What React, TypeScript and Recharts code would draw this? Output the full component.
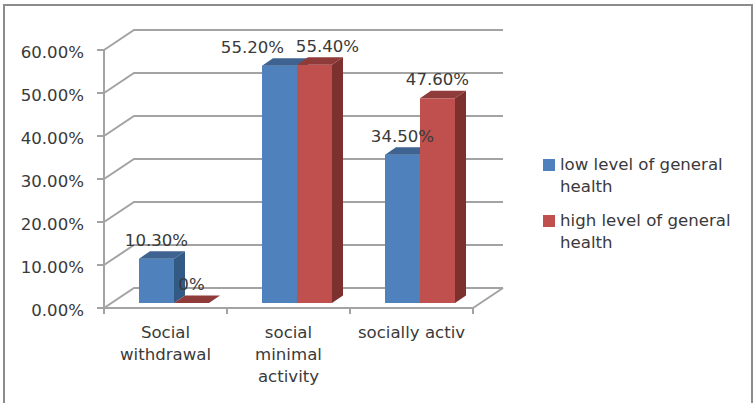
import { BarChart, Bar, XAxis, YAxis, CartesianGrid, Legend, LabelList, Text } from 'recharts'

const CATEGORIES = ['Social withdrawal', 'social minimal activity', 'socially activ']
const LOW_HEALTH = [10.3, 55.2, 34.5]
const HIGH_HEALTH = [0, 55.4, 47.6]
const Y_TICKS = [0, 10, 20, 30, 40, 50, 60]

const FONT = '"DejaVu Sans", sans-serif'
const FONT_SIZE = 16.6
const TEXT_COLOUR = '#3a3a3a'
const AXIS_COLOUR = '#a3a3a3'

const CHART_W = 753
const CHART_H = 403
// Axes take one pixel each, so the plot runs from x=104 and ends on y=308
const MARGIN = { top: 50, right: 280, bottom: 94, left: 103 }
const PLOT_BOTTOM = 308
const BAND_W = (CHART_W - 104 - MARGIN.right) / CATEGORIES.length

// Depth of the back wall, and of the bars sitting on the floor
const WALL_DX = 30
const WALL_DY = -20
const BAR_SHIFT_X = 8
const BAR_SHIFT_Y = -5
const BAR_DX = 11
const BAR_DY = -7.5

const data = CATEGORIES.map((name, i) => ({ name, low: LOW_HEALTH[i], high: HIGH_HEALTH[i] }))

// eslint-disable-next-line @typescript-eslint/no-explicit-any
function WallLine(props: any) {
  const { x1, x2, y1, index } = props
  const wallY = y1 + WALL_DY
  return (
    <g key={index} fill="none" stroke={AXIS_COLOUR} strokeWidth={2}>
      <polyline points={`${x1},${y1} ${x1 + WALL_DX},${wallY} ${x2 + WALL_DX},${wallY}`} />
      {Math.abs(y1 - PLOT_BOTTOM) < 0.5 && (
        <line x1={x2} y1={y1} x2={x2 + WALL_DX} y2={wallY} />
      )}
    </g>
  )
}

// Front, top and side faces of one extruded bar
function box(front: string, top: string, side: string) {
  // eslint-disable-next-line @typescript-eslint/no-explicit-any
  return (props: any) => {
    const { x, y, width, height } = props
    const l = x + BAR_SHIFT_X
    const r = l + width
    const t = y + BAR_SHIFT_Y
    const b = t + height
    return (
      <g>
        <rect x={l} y={t} width={width} height={height} fill={front} />
        <polygon points={`${l},${t} ${l + BAR_DX},${t + BAR_DY} ${r + BAR_DX},${t + BAR_DY} ${r},${t}`} fill={top} />
        <polygon points={`${r},${t} ${r + BAR_DX},${t + BAR_DY} ${r + BAR_DX},${b + BAR_DY} ${r},${b}`} fill={side} />
      </g>
    )
  }
}

const formatValue = (v: number) => (v === 0 ? '0%' : `${v.toFixed(2)}%`)

// The two labels of the middle group are pulled apart so they don't collide
function valueLabel(nudgeMiddle: number) {
  // eslint-disable-next-line @typescript-eslint/no-explicit-any
  return (props: any) => {
    const { x, y, width, value, index } = props
    const nudge = index === 1 ? nudgeMiddle : 0
    return (
      <text
        x={x + BAR_SHIFT_X + width / 2 + nudge}
        y={y + BAR_SHIFT_Y - 13}
        textAnchor="middle"
        fontFamily={FONT}
        fontSize={FONT_SIZE}
        fill={TEXT_COLOUR}
      >
        {formatValue(value)}
      </text>
    )
  }
}

// eslint-disable-next-line @typescript-eslint/no-explicit-any
function CategoryTick(props: any) {
  const { x, payload, index } = props
  const left = x - BAND_W / 2
  const right = x + BAND_W / 2
  return (
    <g>
      <line x1={left} y1={PLOT_BOTTOM} x2={left} y2={PLOT_BOTTOM + 6} stroke={AXIS_COLOUR} strokeWidth={2} />
      {index === CATEGORIES.length - 1 && (
        <line x1={right} y1={PLOT_BOTTOM} x2={right} y2={PLOT_BOTTOM + 6} stroke={AXIS_COLOUR} strokeWidth={2} />
      )}
      <Text
        x={x}
        y={PLOT_BOTTOM + 18}
        width={112}
        textAnchor="middle"
        verticalAnchor="start"
        lineHeight={22}
        style={{ fontFamily: FONT, fontSize: FONT_SIZE }}
        fill={TEXT_COLOUR}
      >
        {payload.value}
      </Text>
    </g>
  )
}

// eslint-disable-next-line @typescript-eslint/no-explicit-any
function LegendBlock({ payload }: any) {
  return (
    <div style={{ fontFamily: FONT, fontSize: FONT_SIZE, lineHeight: '22px', color: TEXT_COLOUR }}>
      {/* eslint-disable-next-line @typescript-eslint/no-explicit-any */}
      {payload.map((entry: any) => (
        <div key={entry.value} style={{ display: 'flex', marginBottom: 12 }}>
          <span style={{ width: 12, height: 12, marginTop: 5, marginRight: 5, flex: 'none', background: entry.color }} />
          <span>{entry.value}</span>
        </div>
      ))}
    </div>
  )
}

export default function App() {
  return (
    <div style={{ position: 'absolute', left: 0, top: 0, width: CHART_W, height: CHART_H, overflow: 'hidden', background: '#fff' }}>
      <div
        style={{
          position: 'absolute', left: 3, top: 4, width: 746, height: 420,
          border: '2.5px solid #8c8c8c',
        }}
      />
      <BarChart width={CHART_W} height={CHART_H} data={data} margin={MARGIN} barSize={35} barGap={0}>
        <CartesianGrid vertical={false} horizontal={WallLine} />
        <XAxis
          dataKey="name"
          height={1}
          interval={0}
          tick={CategoryTick}
          tickLine={false}
          axisLine={{ stroke: AXIS_COLOUR, strokeWidth: 2 }}
        />
        <YAxis
          width={1}
          domain={[0, 60]}
          ticks={Y_TICKS}
          interval={0}
          tickFormatter={(v: number) => `${v.toFixed(2)}%`}
          tickSize={7}
          tickMargin={13}
          tick={{ fontFamily: FONT, fontSize: FONT_SIZE, fill: TEXT_COLOUR, dy: 2 }}
          tickLine={{ stroke: AXIS_COLOUR, strokeWidth: 2 }}
          axisLine={{ stroke: AXIS_COLOUR, strokeWidth: 2 }}
        />
        <Legend
          layout="vertical"
          align="center"
          verticalAlign="middle"
          itemSorter={null}
          content={LegendBlock}
          wrapperStyle={{ left: 543, top: 154, width: 195, margin: 0 }}
        />
        <Bar
          dataKey="low"
          name="low level of general health"
          fill="#4f81bd"
          shape={box('#4f81bd', '#3f6391', '#335a85')}
          isAnimationActive={false}
        >
          <LabelList dataKey="low" content={valueLabel(-27)} />
        </Bar>
        <Bar
          dataKey="high"
          name="high level of general health"
          fill="#c0504d"
          shape={box('#c0504d', '#8f3b39', '#7d312f')}
          isAnimationActive={false}
        >
          <LabelList dataKey="high" content={valueLabel(13)} />
        </Bar>
      </BarChart>
    </div>
  )
}
